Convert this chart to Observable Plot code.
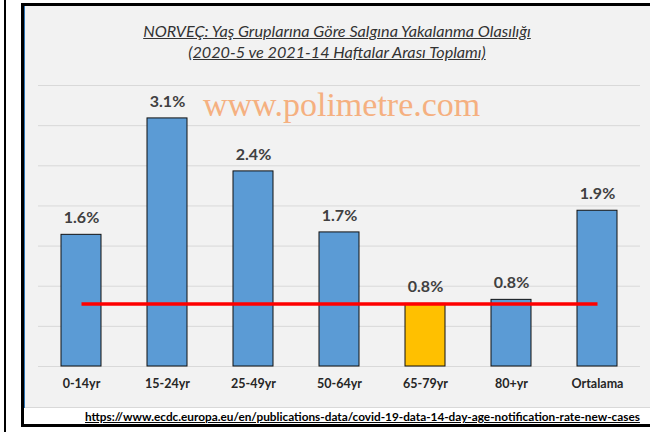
<!DOCTYPE html>
<html><head><meta charset="utf-8">
<script src="https://cdn.jsdelivr.net/npm/d3@7"></script>
<script src="https://cdn.jsdelivr.net/npm/@observablehq/plot@0.6"></script>
<style>
html,body{margin:0;padding:0;background:#fff;}
body{width:650px;height:432px;overflow:hidden;position:relative;font-family:Lato,"Open Sans",sans-serif;}
#outerline{position:absolute;left:4px;top:0;width:2px;height:432px;background:#000;}
#frame{position:absolute;left:21px;top:3px;width:640px;height:418px;border-top:3px solid #000;border-left:3px solid #000;border-bottom:3px solid #000;background:#fff;}
#chart{position:absolute;left:0;top:0;width:626px;height:402px;background:#f2f2f2;border-bottom:1px solid #d9d9d9;box-sizing:border-box;}
#blue{position:absolute;left:0;top:0;width:1px;height:402px;background:#2e75b6;}
#plot{position:absolute;left:0;top:0;}
.title{position:absolute;left:0;width:626px;text-align:center;font-style:italic;font-size:16.2px;color:#333;text-decoration:underline;line-height:20px;white-space:nowrap;}
#wm{position:absolute;left:179px;top:79px;font-family:"Liberation Serif","Times New Roman",serif;font-size:34px;color:#f5b080;line-height:40px;white-space:nowrap;}
#footer{position:absolute;left:61px;top:403px;font-weight:bold;font-size:11.8px;color:#000;text-decoration:underline;white-space:nowrap;line-height:16px;}
</style></head>
<body>
<div id="outerline"></div>
<div id="frame">
  <div id="chart">
    <div id="plot"></div>
    <div id="blue"></div>
    <div class="title" id="t1" style="top:15px"></div>
    <div class="title" id="t2" style="top:36px"></div>
    <div id="wm"></div>
  </div>
  <div id="footer"></div>
</div>
<script>
const titleLines = ["NORVEÇ: Yaş Gruplarına Göre Salgına Yakalanma Olasılığı", "(2020-5 ve 2021-14 Haftalar Arası Toplamı)"];
const watermark = "www.polimetre.com";
const sourceUrl = "https://www.ecdc.europa.eu/en/publications-data/covid-19-data-14-day-age-notification-rate-new-cases";
const categories = ["0-14yr", "15-24yr", "25-49yr", "50-64yr", "65-79yr", "80+yr", "Ortalama"];
const values = [1.64, 3.09, 2.43, 1.67, 0.78, 0.83, 1.94];
const barColors = ["#5b9bd5", "#5b9bd5", "#5b9bd5", "#5b9bd5", "#ffc000", "#5b9bd5", "#5b9bd5"];
const gridTicks = [0, 0.5, 1, 1.5, 2, 2.5, 3, 3.5];
const referenceLevel = 0.78;

document.getElementById("t1").textContent = titleLines[0];
document.getElementById("t2").textContent = titleLines[1];
document.getElementById("wm").textContent = watermark;
document.getElementById("footer").textContent = sourceUrl;

const data = categories.map((c, i) => ({cat: c, value: values[i], color: barColors[i]}));

const chart = Plot.plot({
  width: 626,
  height: 402,
  marginLeft: 14,
  marginRight: 10,
  marginTop: 79,
  marginBottom: 42,
  style: {background: "transparent", fontFamily: "Lato, sans-serif", overflow: "visible"},
  x: {domain: categories, paddingInner: 0.54, paddingOuter: 0.27, label: null},
  y: {domain: [0, 3.5], axis: null},
  color: {type: "identity"},
  marks: [
    Plot.ruleY(gridTicks, {stroke: "#d9d9d9", strokeWidth: 1}),
    Plot.barY(data, {x: "cat", y: "value", fill: "color", stroke: "#111", strokeWidth: 1}),
    Plot.text(data, {x: "cat", y: "value", text: d => d.value.toFixed(1) + "%", dy: -17, fontSize: 16, fontWeight: "bold", fill: "#404040"}),
    Plot.lineY(categories, {x: d => d, y: () => referenceLevel, stroke: "#ff0000", strokeWidth: 3.5, strokeLinecap: "butt"}),
    Plot.axisX({tickSize: 0, tickPadding: 13, fontSize: 12.5, fontWeight: "bold", fill: "#262626", label: null})
  ]
});
document.getElementById("plot").appendChild(chart);
</script>
</body></html>
